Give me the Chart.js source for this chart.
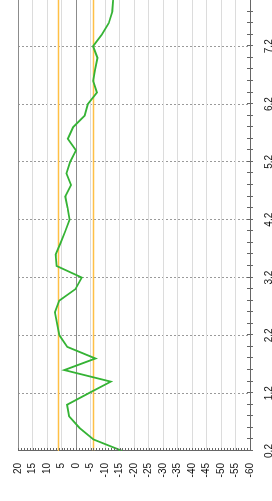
<!DOCTYPE html>
<html>
<head>
<meta charset="utf-8">
<script src="https://cdn.jsdelivr.net/npm/chart.js"></script>
<style>
  html, body { margin: 0; padding: 0; background: #fff; }
  body { width: 272px; height: 501px; overflow: hidden; position: relative; }
  /* chart is drawn lying down, then turned a quarter to the left */
  #wrap {
    position: absolute; left: 0; top: 0;
    width: 501px; height: 272px;
    transform-origin: top left;
    transform: translate(0, 501px) rotate(-90deg);
  }
</style>
</head>
<body>
<div id="wrap"><canvas id="chart" width="501" height="272"></canvas></div>
<script>
// x 위치 (0.2 간격)
var xValues = [0.2, 0.4, 0.6, 0.8, 1.0, 1.2, 1.4, 1.6, 1.8, 2.0,
               2.2, 2.4, 2.6, 2.8, 3.0, 3.2, 3.4, 3.6, 3.8, 4.0,
               4.2, 4.4, 4.6, 4.8, 5.0, 5.2, 5.4, 5.6, 5.8, 6.0,
               6.2, 6.4, 6.6, 6.8, 7.0, 7.2, 7.4, 7.6, 7.8, 8.0];
// 녹색 라인 값
var yValues = [-16, -6, -1.2, 2.4, 3.1, -4.4, -12, 4, -6.7, 3,
               5.7, 6.5, 7.3, 5.8, 0.2, -2, 6.7, 7, 5.3, 3.7,
               2.2, 2.9, 3.7, 1.7, 3.3, 2, 0, 2.8, 1.0, -3,
               -4.1, -7.2, -5.9, -6.6, -7.4, -5.9, -8.9, -11.3, -12.5, -12.8];
// 기준선 (주황)
var upperLimit = 6;
var lowerLimit = -6;

// 축 눈금
var xTickValues = [0.2, 1.2, 2.2, 3.2, 4.2, 5.2, 6.2, 7.2];
var yTickValues = [-60, -55, -50, -45, -40, -35, -30, -25, -20, -15, -10, -5, 0, 5, 10, 15, 20];
var xMin = 0.2, xMax = 8.0;
var yMin = -60, yMax = 20;

// 작은 눈금 표시 (축을 가로지르는 짧은 선)
var tickMarksPlugin = {
	id: 'tickMarks',
	afterDraw(chart) {
		var ctx = chart.ctx;
		var area = chart.chartArea;
		var xs = chart.scales.x;
		var ys = chart.scales.y;
		ctx.save();
		ctx.strokeStyle = '#666666';
		ctx.lineWidth = 1;
		ctx.beginPath();
		for (var i = 0; i <= Math.round((xMax - xMin) / 0.2); i++) {
			var px = Math.round(xs.getPixelForValue(xMin + i * 0.2)) + 0.5;
			ctx.moveTo(px, area.bottom - 3);
			ctx.lineTo(px, area.bottom + 3);
		}
		for (var v = yMin; v <= yMax; v++) {
			var py = Math.round(ys.getPixelForValue(v)) + 0.5;
			ctx.moveTo(area.left, py);
			ctx.lineTo(area.left + 3, py);
		}
		ctx.stroke();
		ctx.restore();
	}
};

var tickFont = { size: 10, family: "'Liberation Sans', Arial, sans-serif" };

var myChart = new Chart(document.getElementById('chart'), {
	type: 'scatter',
	data: {
		datasets: [{
			data: xValues.map((x, i) => ({ x: x, y: yValues[i] })),
			showLine: true,
			borderColor: '#35b335',
			borderWidth: 1.8,
			pointRadius: 0,
			tension: 0
		}, {
			data: [{ x: xMin, y: upperLimit }, { x: xMax, y: upperLimit }],
			showLine: true,
			borderColor: 'rgb(255, 192, 70)',
			borderWidth: 1.5,
			pointRadius: 0
		}, {
			data: [{ x: xMin, y: lowerLimit }, { x: xMax, y: lowerLimit }],
			showLine: true,
			borderColor: 'rgb(255, 192, 70)',
			borderWidth: 1.5,
			pointRadius: 0
		}]
	},
	options: {
		responsive: false,
		animation: false,
		events: [],
		plugins: {
			legend: { display: false },
			tooltip: { enabled: false }
		},
		layout: {
			padding: { top: 12, right: 0, bottom: 0, left: 0 }
		},
		scales: {
			x: {
				type: 'linear',
				position: 'bottom',
				min: xMin,
				max: xMax,
				afterBuildTicks: (scale) => { scale.ticks = xTickValues.map(v => ({ value: v })); },
				afterFit: (scale) => { scale.height = 22; },
				ticks: {
					autoSkip: false,
					maxRotation: 0,
					padding: 13,
					color: '#111111',
					font: tickFont,
					callback: (v) => v.toFixed(1)
				},
				grid: {
					drawTicks: false,
					color: '#9a9a9a',
					lineWidth: 1
				},
				border: {
					color: '#666666',
					dash: [2, 2]
				}
			},
			y: {
				type: 'linear',
				position: 'left',
				min: yMin,
				max: yMax,
				afterBuildTicks: (scale) => { scale.ticks = yTickValues.map(v => ({ value: v })); },
				afterFit: (scale) => { scale.width = 50; },
				ticks: {
					autoSkip: false,
					padding: 12,
					color: '#111111',
					font: tickFont
				},
				grid: {
					drawTicks: false,
					lineWidth: 1,
					color: (ctx) => (ctx.tick && (ctx.tick.value === 0 || ctx.tick.value === 20)) ? '#8c8c8c' : '#dcdcdc'
				},
				border: {
					color: '#666666'
				}
			}
		}
	},
	plugins: [tickMarksPlugin]
});
</script>
</body>
</html>
